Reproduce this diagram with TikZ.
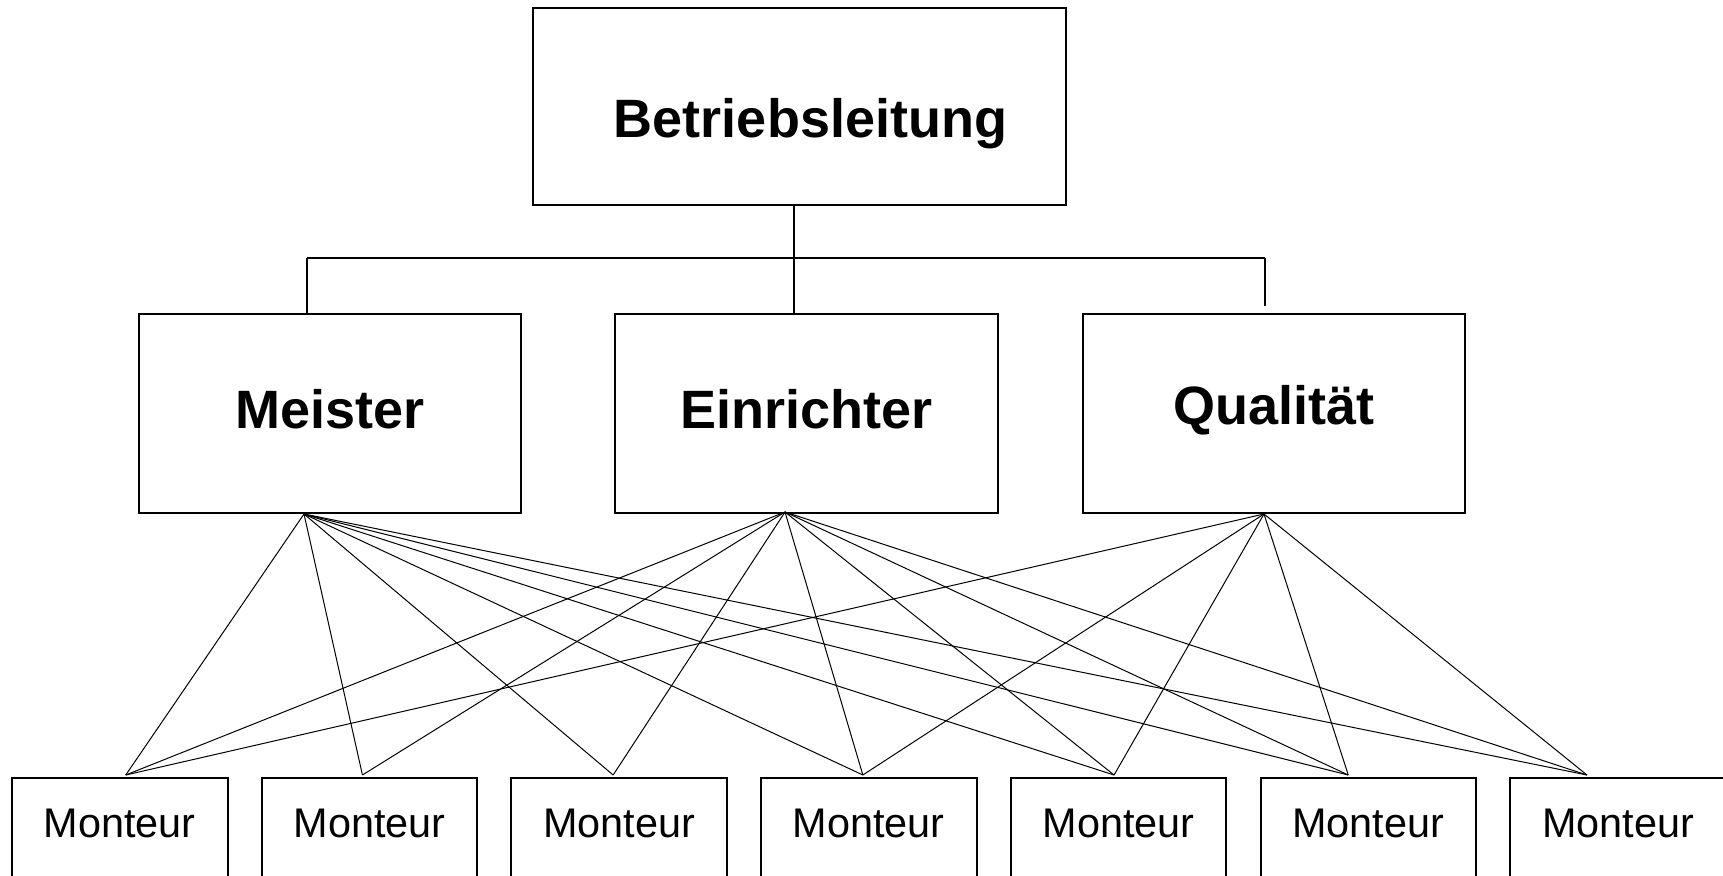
\documentclass[tikz,border=0pt]{standalone}
\usepackage{fontspec}
\setsansfont{Liberation Sans}
\usetikzlibrary{calc}
\tikzset{
  every picture/.style={font=\sffamily},
  box/.style={draw, line width=1pt, inner sep=0pt, align=center},
  head/.style={box, font=\sffamily\bfseries\fontsize{27}{32}\selectfont},
  tree/.style={draw, line width=1pt},
  fan/.style={draw, line width=0.5pt},
}
\begin{document}
\begin{tikzpicture}[x=0.5pt, y=-0.5pt,
    lead/.style={head, minimum width=266.5pt, text height=64.85pt, text depth=33.65pt},
    dept/.style={head, minimum width=191.25pt, text height=57.15pt, text depth=42.35pt},
    worker/.style={box, font=\sffamily\fontsize{20.7}{25}\selectfont, minimum width=107.75pt, text height=29.5pt, text depth=30pt, anchor=base},
  ]
  \clip (0,0) rectangle (1723,876);

  % management
  \node[lead] (lead) at (799.5,106.5) {\hspace*{11pt}Betriebsleitung};

  % departments
  \node[dept] (mei) at (330,413.5) {Meister};
  \node[dept] (ein) at (806.5,413.5) {Einrichter};
  \node[dept, text height=55.15pt, text depth=44.35pt] (qual) at (1274,413.5) {Qualität};

  % workers
  \foreach \i in {1,...,7}
    \node[worker] (m\i) at ({119.75+249.7*(\i-1)},837) {Monteur};

  % tree above the departments
  \coordinate (jm) at (307,258);
  \coordinate (jc) at (794,258);
  \coordinate (jq) at (1265,258);
  \coordinate (qend) at (1265,306);
  \draw[tree] (lead.south -| jc) -- (ein.north -| jc);
  \draw[tree] (jm) -- (jq);
  \draw[tree] (jm) -- (mei.north -| jm);
  \draw[tree] (jq) -- (qend);

  % fan to the workers
  \coordinate (om) at ($(mei.south)+(-26,0)$);
  \coordinate (oe) at ($(ein.south)+(-21.5,-2)$);
  \coordinate (oq) at ($(qual.south)+(-10,0)$);
  \foreach \i/\dx in {1/6, 2/-7, 3/-6, 4/-6, 5/-4.5, 6/-20, 7/-31}
    \coordinate (t\i) at ($(m\i.north)+(\dx,-2)$);
  \foreach \i in {1,...,7} {
    \draw[fan] (om) -- (t\i);
    \draw[fan] (oe) -- (t\i);
  }
  \foreach \i in {1,4,5,6,7}
    \draw[fan] (oq) -- (t\i);
\end{tikzpicture}
\end{document}
